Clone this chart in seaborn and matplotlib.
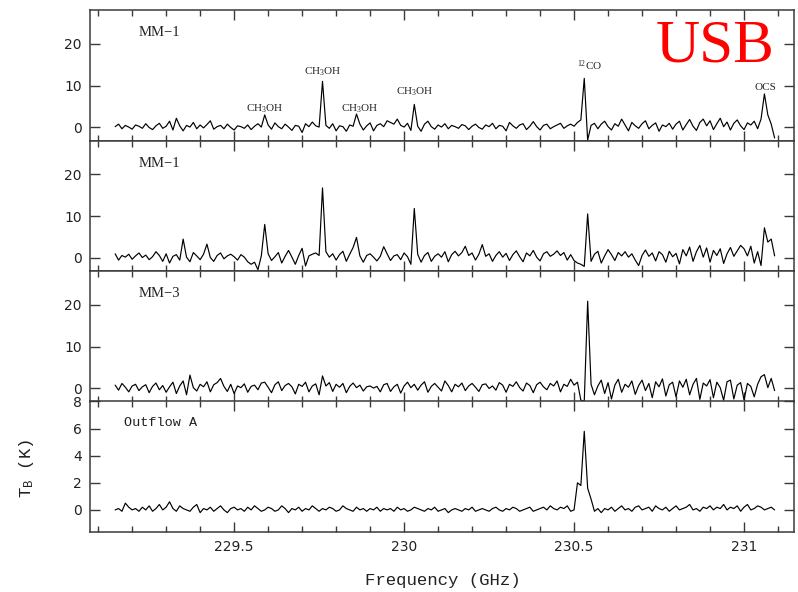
import numpy as np
import matplotlib
matplotlib.use("Agg")
import matplotlib.pyplot as plt
from matplotlib.ticker import MultipleLocator, FixedLocator, FuncFormatter
import seaborn as sns

# ---------------- data ----------------
f_start, f_step, n_chan = 229.15, 0.01, 195
freq = f_start + f_step * np.arange(n_chan)

mm1_top = [
    0.2, 0.8, -0.3, 0.5, 0.1, -0.4, 0.6, 0.3, -0.2, 0.9, 0.0, -0.5, 0.4, 1.0, -0.2,
    0.3, 1.5, -0.6, 2.2, 0.4, -0.8, 0.5, 0.1, 1.2, -0.3, 0.6, -0.1, 0.7, 1.6, -0.4,
    0.2, 0.5, -0.3, 0.8, 0.0, -0.6, 0.4, 0.2, -0.2, 0.6, -0.5, 0.3, 0.9, 0.1, 3.0,
    0.6, -0.4, 1.1, 0.2, -0.3, 0.8, 0.1, -0.7, 0.5, 0.3, -1.2, 0.9, 0.2, 1.3, 0.4,
    0.1, 11.0, 0.5, -0.2, 0.9, -0.8, 0.4, 0.2, -0.9, 0.6, 0.3, 3.2, 0.8, -0.6, 0.4,
    1.1, -0.8, 0.5, 0.9, 0.2, 1.6, 1.2, 0.8, 2.0, 0.5, 0.1, 1.0, -0.7, 5.5, 0.3,
    -0.9, 0.8, 1.5, 0.2, -0.4, 0.6, 0.1, 0.9, -0.3, 0.5, 0.2, -0.2, 0.7, 0.4, -0.5,
    0.3, 0.8, 0.0, -0.4, 0.6, 0.2, 1.0, -0.3, 0.5, 0.3, -0.8, 1.2, 0.4, -0.2, 0.6,
    0.9, -0.5, 0.3, 1.4, 0.2, -0.6, 0.5, 0.8, -0.3, 0.2, 0.6, 1.0, -0.2, 0.4, 0.8,
    0.3, 1.2, 1.8, 11.7, -3.0, 0.5, 1.0, -0.3, 0.8, 1.5, 0.2, -0.6, 0.9, 0.3, 2.0,
    0.6, -0.8, 1.2, 0.4, -0.2, 0.9, 1.6, -0.3, 0.5, 1.1, -0.9, 0.6, 0.2, 1.0, -0.4,
    0.8, 1.5, -0.6, 0.7, 1.9, 0.3, -0.7, 1.2, 2.0, 0.4, 1.6, -0.5, 0.9, 2.2, 0.2,
    1.3, -0.6, 1.0, 1.8, 0.4, -0.5, 1.1, 0.6, 1.5, -0.3, 2.0, 8.0, 3.0, 0.8, -2.5,
]

mm1_bottom = [
    1.0, -0.5, 0.6, 0.2, 0.9, -0.3, 0.5, 1.2, 0.1, 0.7, -0.4, 0.3, 1.5, 0.6, -0.8,
    1.0, -1.2, 0.4, 0.8, -0.5, 4.5, 0.2, -0.9, 1.3, 0.5, -0.4, 0.9, 3.3, 0.1, -0.8,
    0.6, 1.2, -0.2, 0.5, 0.9, 0.3, -0.5, 0.8, 0.2, -0.9, -1.5, -1.0, -2.8, 0.5, 8.0,
    1.0, -0.6, 0.3, 1.3, -1.2, 0.4, 1.8, 0.2, -1.5, 0.6, 2.3, -1.9, 0.5, 0.9, 1.2,
    0.6, 16.7, 1.5, 0.2, 1.0, -0.5, 0.8, 1.6, -0.8, 0.9, 2.5, 4.9, 0.5, -1.0, 0.6,
    1.0, 0.2, -0.7, 0.4, 2.7, 1.0, -0.6, 0.5, 0.8, -0.4, 1.2, 0.3, -1.5, 11.8, 0.9,
    -1.0, 0.6, 1.3, -0.8, 0.4, 1.0, 0.2, 1.5, -0.9, 0.8, 1.6, 0.5, 1.3, 2.8, 0.6,
    1.2, -0.5, 0.9, 3.2, 0.4, 1.0, -0.8, 0.6, 1.5, 0.2, 1.1, -0.6, 0.8, 1.7, 0.3,
    -0.9, 1.2, 0.5, 1.8, 0.2, -0.7, 1.0, 1.5, 0.4, 0.9, 1.7, 0.6, 1.3, -0.5, 0.8,
    -0.6, -1.2, -1.5, -2.0, 10.5, -0.8, 0.9, 1.6, -1.2, 0.5, 2.0, 0.8, -0.6, 1.3, 0.5,
    1.5, 0.2, 1.0, -0.5, -1.8, 0.6, 1.9, 0.4, 1.2, -0.7, 1.5, 0.8, -1.0, 1.6, 0.3,
    1.1, -1.4, 2.0, 0.5, 2.6, -0.8, 1.5, 3.0, 0.2, 2.4, -1.0, 1.8, 0.6, 2.2, -1.3,
    1.0, 2.5, 0.4, 1.7, 3.0, 2.2, 0.5, 2.8, -1.2, 1.5, -1.8, 7.2, 3.8, 4.5, 0.5,
]

mm3 = [
    0.8, -0.4, 1.2, 0.3, -0.8, 0.6, 1.0, -0.5, 0.4, 0.9, -1.0, 0.5, 1.3, -0.3, 0.7,
    -0.9, 0.4, 1.5, -1.2, 0.6, 1.8, -1.5, 3.2, 0.2, -0.6, 1.0, 0.4, 1.6, -0.8, 0.9,
    1.4, 2.4, 0.5, -0.7, 1.0, -1.2, 0.6, 0.2, 1.1, -0.9, 0.5, 0.8, -0.3, 1.3, 1.5,
    0.3, -1.0, 0.9, 1.6, -0.5, 0.7, 1.2, 0.4, -1.3, 1.0, 0.5, 1.5, -0.8, 0.6, 1.1,
    -1.5, 3.0, 0.6, 1.4, -0.7, 1.0, 0.3, 1.2, -1.0, 0.5, 1.3, 0.2, 0.8, -0.6, 0.4,
    0.6, 0.1, 0.5, -0.8, 0.9, 1.2, -0.7, 0.4, 1.0, -1.1, 0.6, 1.5, 0.2, 1.0, -0.4,
    0.8, 1.6, -0.9, 0.5, 1.2, 0.3, -0.6, 1.8, 0.7, -0.8, 1.0, 0.4, 1.3, -0.5, 0.6,
    1.2, 0.3, -0.7, 0.9, 1.1, 0.0, 0.6, -0.4, 1.4, 0.8, -0.9, 1.0, 0.5, 1.6, 0.2,
    -0.6, 1.3, 0.7, -1.0, 0.9, 1.5, 0.4, -0.3, 1.2, 0.6, 1.8, -0.8, 1.0, 0.5, 2.2,
    0.8, 1.5, -2.8, -3.0, 20.8, 1.0, -1.5, 0.6, 2.0, -1.2, 1.4, -2.5, 0.8, 2.2, -0.9,
    1.0, 0.3, 1.8, -1.4, 0.7, 2.0, -0.5, 1.2, -2.2, 1.6, 0.4, 2.3, -1.8, 0.9, 1.5,
    -2.0, 1.8, 0.3, 2.2, -1.5, 1.0, 2.4, -2.6, 1.3, 0.6, 2.1, -2.2, 1.5, 0.2, -2.8,
    1.6, 2.0, -2.5, 0.8, 1.4, -2.7, 1.2, 0.5, -2.0, 1.0, 2.8, 3.3, 0.2, 2.4, -0.5,
]

outflow_a = [
    0.0, 0.1, -0.1, 0.5, 0.2, 0.0, 0.1, -0.1, 0.2, 0.0, 0.3, -0.1, 0.1, 0.4, 0.0,
    0.2, 0.6, 0.1, -0.1, 0.3, 0.1, 0.0, -0.1, 0.2, 0.4, -0.2, 0.1, 0.0, 0.2, -0.1,
    0.1, 0.3, 0.0, -0.2, 0.1, 0.2, 0.0, 0.1, -0.1, 0.2, 0.0, 0.3, 0.1, -0.1, 0.0,
    0.2, 0.1, -0.1, 0.0, 0.3, 0.1, -0.2, 0.1, 0.0, 0.2, -0.1, 0.1, 0.0, 0.3, 0.1,
    -0.1, 0.1, 0.0, 0.2, 0.1, -0.1, 0.0, 0.3, 0.1, 0.0, -0.1, 0.2, 0.0, 0.1, -0.1,
    0.1, 0.0, 0.2, -0.1, 0.1, 0.0, 0.1, -0.1, 0.2, 0.0, 0.1, -0.1, 0.0, 0.2, 0.1,
    0.0, -0.1, 0.1, 0.0, 0.2, -0.1, 0.0, 0.1, -0.2, 0.0, 0.1, 0.0, -0.1, 0.1, 0.0,
    0.2, -0.1, 0.0, 0.1, 0.0, -0.1, 0.1, 0.2, 0.0, -0.1, 0.1, 0.0, 0.2, 0.1, -0.1,
    0.0, 0.1, 0.2, -0.1, 0.0, 0.1, 0.2, 0.0, 0.3, 0.1, 0.0, 0.2, 0.1, 0.3, -0.1,
    0.0, 2.0, 1.8, 5.8, 1.6, 0.8, -0.1, 0.1, -0.2, 0.1, 0.0, 0.2, -0.1, 0.1, 0.3,
    0.0, 0.1, -0.1, 0.2, 0.3, 0.0, 0.1, 0.2, -0.1, 0.3, 0.1, 0.0, 0.2, -0.1, 0.1,
    0.3, 0.0, 0.1, 0.2, 0.4, 0.0, 0.1, -0.1, 0.2, 0.1, 0.3, 0.0, 0.2, 0.1, 0.4,
    0.0, 0.2, 0.1, 0.3, -0.1, 0.2, 0.4, 0.0, 0.1, 0.3, 0.2, 0.0, 0.1, 0.2, 0.0,
]

panel_names = ["MM\u22121", "MM\u22121", "MM\u22123", "Outflow A"]
panel_series = [mm1_top, mm1_bottom, mm3, outflow_a]

line_labels = ["CH$\\mathregular{_3}$OH", "CH$\\mathregular{_3}$OH", "CH$\\mathregular{_3}$OH",
               "CH$\\mathregular{_3}$OH", "$\\mathregular{^{12}}$CO", "OCS"]
line_freqs = [229.59, 229.76, 229.87, 230.03, 230.545, 231.062]
line_label_y = [4.5, 13.3, 4.5, 8.6, 14.8, 9.5]

# ---------------- style ----------------
sns.set_style("ticks")
plt.rcParams["font.family"] = ["DejaVu Sans"]
plt.rcParams["mathtext.fontset"] = "dejavuserif"

fig = plt.figure(figsize=(7.98, 5.92), dpi=100)
gs = fig.add_gridspec(4, 1, left=90 / 798, right=794 / 798, top=1 - 10 / 592,
                      bottom=1 - 532 / 592, hspace=0)
axes = [fig.add_subplot(gs[i]) for i in range(4)]

spine_col = "#3a3a3a"
for i, (ax, name, vals) in enumerate(zip(axes, panel_names, panel_series)):
    sns.lineplot(x=freq, y=vals, ax=ax, color="black", lw=0.85, estimator=None,
                 sort=False)
    ax.set_xlim(229.076, 231.147)
    if i < 3:
        ax.set_ylim(-3.1, 28.0)
        ax.yaxis.set_major_locator(FixedLocator([0, 10, 20]))
    else:
        ax.set_ylim(-1.63, 8.0)
        ax.yaxis.set_major_locator(FixedLocator([0, 2, 4, 6, 8]))
    ax.xaxis.set_major_locator(MultipleLocator(0.5))
    ax.xaxis.set_minor_locator(MultipleLocator(0.1))
    ax.xaxis.set_major_formatter(FuncFormatter(lambda v, p: f"{v:g}"))
    ax.tick_params(axis="both", which="both", direction="in", top=True, right=True,
                   color=spine_col, width=1.0)
    ax.tick_params(axis="both", which="major", length=7, labelsize=10,
                   labelcolor="#222222", pad=6)
    ax.tick_params(axis="x", which="minor", length=4.5)
    for sp in ax.spines.values():
        sp.set_color(spine_col)
        sp.set_linewidth(1.1)
    if i < 3:
        ax.tick_params(axis="x", labelbottom=False)
    ax.set_xlabel("")
    ax.set_ylabel("")
    if i < 3:
        ax.text(229.22, 22.6, name, family="Liberation Serif", fontsize=10.5,
                va="center", ha="left", color="#222222")
    else:
        ax.text(229.176, 6.4, name, family="Liberation Mono", fontsize=9.7,
                va="center", ha="left", color="#222222")

for lab, fx, fy in zip(line_labels, line_freqs, line_label_y):
    axes[0].text(fx, fy, lab, family="Liberation Serif", fontsize=8, ha="center",
                 va="center", color="#222222")

fig.text(775 / 798, 1 - 62 / 592, "USB", family="Liberation Serif", fontsize=44,
         color="#ff0000", ha="right", va="baseline")
fig.text(443 / 798, 1 - 580 / 592, "Frequency (GHz)", family="Liberation Mono",
         fontsize=12.5, ha="center", va="center", color="#222222")
fig.text(27 / 798, 1 - 468 / 592, "$\\mathregular{T_B}$ (K)", family="Liberation Mono",
         fontsize=12.5, ha="center", va="center", rotation=90, color="#222222")

fig.savefig("out.png", dpi=100)
